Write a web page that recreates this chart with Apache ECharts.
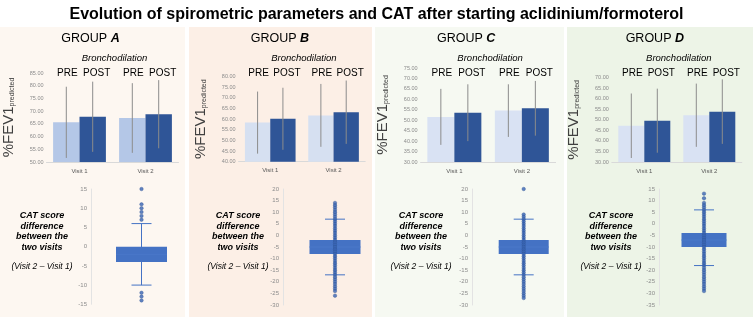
<!DOCTYPE html>
<html>
<head>
<meta charset="utf-8">
<script src="https://cdn.jsdelivr.net/npm/echarts@6/dist/echarts.min.js"></script>
<style>
  html, body { margin: 0; padding: 0; background: #fff; }
  #chart { width: 753px; height: 317px; }
</style>
</head>
<body>
<div id="chart"></div>
<script>
// ---- data ----
const groups = ['A', 'B', 'C', 'D']
const visits = ['Visit 1', 'Visit 2']

// %FEV1 predicted, mean and SD, per group: [Visit 1, Visit 2]
const fevPre = [[65.6, 67.3], [58.4, 61.8], [51.6, 54.6], [47.2, 52.2]]
const fevPost = [[67.8, 68.8], [60.2, 63.3], [53.6, 55.7], [49.6, 53.9]]
const fevPreSd = [[14.0, 13.7], [14.6, 14.8], [13.4, 12.6], [15.3, 15.0]]
const fevPostSd = [[13.8, 13.4], [14.6, 14.9], [13.6, 13.1], [15.2, 15.3]]
const fevMin = [50, 40, 30, 30]
const fevMax = [85, 80, 75, 70]

// CAT difference (Visit 2 - Visit 1) box stats per group
const catLow = [-10, -17, -17, -18]
const catQ1 = [-4, -8, -8, -10]
const catMedian = [-2, -5, -5, -7]
const catQ3 = [0, -2, -2, -4]
const catHigh = [6, 7, 7, 6]
const catMin = [-15, -30, -30, -35]
const catMax = [15, 20, 20, 15]
const catPointsA = [15, 11, 10, 9, 8, 7, -12, -13, -14]
const catPointsB = [14, 13, 12, 11, 10, 9, 8, 7, 6, 5, 4, 3, 2, 1, 0, -1, -2, -3, -4, -5, -6, -7, -8, -9, -10,
  -11, -12, -13, -14, -15, -16, -17, -18, -19, -20, -21, -22, -23, -24, -26]
const catPointsC = [20, 9, 8, 7, 6, 5, 4, 3, 2, 1, 0, -1, -2, -3, -4, -5, -6, -7, -8, -9, -10, -11, -12, -13,
  -14, -15, -16, -17, -18, -19, -20, -21, -22, -23, -24, -25, -26, -27]
const catPointsD = [13, 11, 9, 8, 7, 6, 5, 4, 3, 2, 1, 0, -1, -2, -3, -4, -5, -6, -7, -8, -9, -10, -11, -12,
  -13, -14, -15, -16, -17, -18, -19, -20, -21, -22, -23, -24, -25, -26, -27, -28, -29]
const catPoints = [catPointsA, catPointsB, catPointsC, catPointsD]

// ---- layout ----
const panels = [
  { x: 0, w: 185, color: '#fdf7f1' },
  { x: 189, w: 183, color: '#fcefe6' },
  { x: 375, w: 189, color: '#f6f9f2' },
  { x: 567, w: 186, color: '#edf4e7' },
]
const barGrids = [
  { left: 46.5, width: 132, top: 73, height: 89 },
  { left: 238.6, width: 126.6, top: 76.7, height: 85 },
  { left: 420.6, width: 135, top: 68, height: 94 },
  { left: 611.8, width: 130, top: 77.7, height: 84.3 },
]
const boxGrids = [
  { left: 91, width: 101, top: 189, height: 115.3, box: 51 },
  { left: 283, width: 104, top: 189, height: 116, box: 51 },
  { left: 472, width: 103.4, top: 189, height: 116, box: 50 },
  { left: 659, width: 90, top: 189, height: 116, box: 45 },
]
const textCenters = [42, 238, 421, 611]

const lightBlue = ['#b4c7e7', '#d6e0f1', '#d9e2f3', '#d9e2f3']
const darkBlue = '#2f5597'
const boxBlue = '#4472c4'
const font = 'Liberation Sans, Arial, sans-serif'

const grid = []
const xAxis = []
const yAxis = []
const series = []
const graphic = []

panels.forEach(p => {
  graphic.push({ type: 'rect', shape: { x: p.x, y: 27, width: p.w, height: 290 }, style: { fill: p.color }, z: -10 })
})

groups.forEach((g, gi) => {
  const bg = barGrids[gi]
  grid.push({ left: bg.left, top: bg.top, width: bg.width, height: bg.height })
  xAxis.push({
    type: 'category', gridIndex: gi, data: visits,
    axisTick: { show: false },
    axisLine: { lineStyle: { color: '#d9d9d9' } },
    axisLabel: { color: '#595959', fontSize: 6, fontFamily: font, margin: 6 },
  })
  yAxis.push({
    type: 'value', gridIndex: gi, min: fevMin[gi], max: fevMax[gi], interval: 5,
    axisLabel: { color: '#8c8c8c', fontSize: 5.5, fontFamily: font, margin: 3, formatter: v => v.toFixed(2) },
    axisLine: { show: false }, axisTick: { show: false }, splitLine: { show: false },
    name: '{a|%FEV1}{b|predicted}',
    nameLocation: 'middle', nameRotate: 90, nameGap: 30,
    nameTextStyle: {
      rich: {
        a: { fontSize: 15, color: '#404040', fontFamily: font },
        b: { fontSize: 7, color: '#404040', fontFamily: font, padding: [6, 0, 0, 0] },
      },
    },
  })
  series.push({
    type: 'bar', xAxisIndex: gi, yAxisIndex: gi, data: fevPre[gi],
    itemStyle: { color: lightBlue[gi] }, barGap: '0%', barCategoryGap: '20%',
  })
  series.push({
    type: 'bar', xAxisIndex: gi, yAxisIndex: gi, data: fevPost[gi],
    itemStyle: { color: darkBlue }, barGap: '0%', barCategoryGap: '20%',
  })
  const errSeries = (means, sds, side) => ({
    type: 'custom', xAxisIndex: gi, yAxisIndex: gi, z: 5,
    data: means.map((m, i) => [i, m, sds[i]]),
    renderItem(params, api) {
      const i = api.value(0), m = api.value(1), sd = api.value(2)
      const top = api.coord([i, m + sd])
      const bot = api.coord([i, m - sd])
      const barW = api.size([1, 0])[0] * 0.4
      const x = top[0] + side * barW / 2
      return {
        type: 'line',
        shape: { x1: x, y1: top[1], x2: x, y2: bot[1] },
        style: { stroke: '#8c8c8c', lineWidth: 1 },
      }
    },
  })
  series.push(errSeries(fevPre[gi], fevPreSd[gi], -1))
  series.push(errSeries(fevPost[gi], fevPostSd[gi], 1))
})

groups.forEach((g, gi) => {
  const bx = boxGrids[gi]
  const k = gi + 4
  grid.push({ left: bx.left, top: bx.top, width: bx.width, height: bx.height })
  xAxis.push({ type: 'category', gridIndex: k, data: ['Visit 2'], show: false })
  yAxis.push({
    type: 'value', gridIndex: k, min: catMin[gi], max: catMax[gi], interval: 5,
    axisLabel: { color: '#8c8c8c', fontSize: 6, fontFamily: font, margin: 4 },
    axisLine: { show: true, lineStyle: { color: '#e3e3e3' } },
    axisTick: { show: false }, splitLine: { show: false },
  })
  series.push({
    type: 'custom', xAxisIndex: k, yAxisIndex: k, z: 3,
    data: [[0, catLow[gi], catQ1[gi], catMedian[gi], catQ3[gi], catHigh[gi]]],
    renderItem(params, api) {
      const lo = api.coord([0, api.value(1)])
      const q1 = api.coord([0, api.value(2)])
      const md = api.coord([0, api.value(3)])
      const q3 = api.coord([0, api.value(4)])
      const hi = api.coord([0, api.value(5)])
      const x = lo[0], hw = bx.box / 2, cap = 10
      const ls = { stroke: boxBlue, lineWidth: 1 }
      return {
        type: 'group',
        children: [
          { type: 'line', shape: { x1: x, y1: hi[1], x2: x, y2: lo[1] }, style: ls },
          { type: 'line', shape: { x1: x - cap, y1: hi[1], x2: x + cap, y2: hi[1] }, style: ls },
          { type: 'line', shape: { x1: x - cap, y1: lo[1], x2: x + cap, y2: lo[1] }, style: ls },
          { type: 'rect', shape: { x: x - hw, y: q3[1], width: bx.box, height: q1[1] - q3[1] }, style: { fill: boxBlue } },
          { type: 'line', shape: { x1: x - hw, y1: md[1], x2: x + hw, y2: md[1] }, style: { stroke: '#4a78c9', lineWidth: 1 } },
        ],
      }
    },
  })
  series.push({
    type: 'scatter', xAxisIndex: k, yAxisIndex: k, z: 4,
    data: catPoints[gi].map(v => [0, v]),
    symbolSize: 3.5,
    itemStyle: { color: '#3864b4', borderColor: '#2f5597', borderWidth: 0.5 },
  })

  const tx = textCenters[gi]
  graphic.push({
    type: 'text', x: tx, y: 210,
    style: {
      text: 'CAT score\ndifference\nbetween the\ntwo visits',
      font: 'italic bold 9px ' + font, fill: '#000', align: 'center', verticalAlign: 'top', lineHeight: 10.7,
    },
  })
  graphic.push({
    type: 'text', x: tx, y: 267,
    style: { text: '(Visit 2 \u2013 Visit 1)', font: 'italic 8.5px ' + font, fill: '#000', align: 'center', verticalAlign: 'middle' },
  })
})

const option = {
  animation: false,
  backgroundColor: '#fff',
  title: {
    text: 'Evolution of spirometric parameters and CAT after starting aclidinium/formoterol',
    left: 'center', top: 2,
    textStyle: { fontSize: 16, fontWeight: 'bold', color: '#000', fontFamily: 'Liberation Sans Narrow, Arial Narrow, ' + font },
  },
  grid, xAxis, yAxis, series, graphic,
}

const chart = echarts.init(document.getElementById('chart'), null, { renderer: 'canvas' })
chart.setOption(option)

// group headers and PRE / POST labels, placed from the bar grids
const labels = []
groups.forEach((g, gi) => {
  const bg = barGrids[gi]
  const mid = bg.left + bg.width / 2
  labels.push({
    type: 'text', x: mid - 22, y: 39,
    style: {
      text: '{n|GROUP }{g|' + g + '}',
      rich: {
        n: { font: '12.5px ' + font, fill: '#000' },
        g: { font: 'italic bold 12.5px ' + font, fill: '#000' },
      },
      align: 'center', verticalAlign: 'middle',
    },
  })
  labels.push({
    type: 'text', x: mid + 2, y: 58,
    style: { text: 'Bronchodilation', font: 'italic 9.5px ' + font, fill: '#000', align: 'center', verticalAlign: 'middle' },
  })
  visits.forEach((v, vi) => {
    const c = chart.convertToPixel({ gridIndex: gi }, [vi, fevMin[gi]])
    const barW = bg.width / 2 * 0.4
    labels.push({
      type: 'text', x: c[0] - barW / 2 + 1, y: 73,
      style: { text: 'PRE', font: '10px ' + font, fill: '#000', align: 'center', verticalAlign: 'middle' },
    })
    labels.push({
      type: 'text', x: c[0] + barW / 2 + 4, y: 73,
      style: { text: 'POST', font: '10px ' + font, fill: '#000', align: 'center', verticalAlign: 'middle' },
    })
  })
})
chart.setOption({ graphic: graphic.concat(labels) })
</script>
</body>
</html>
